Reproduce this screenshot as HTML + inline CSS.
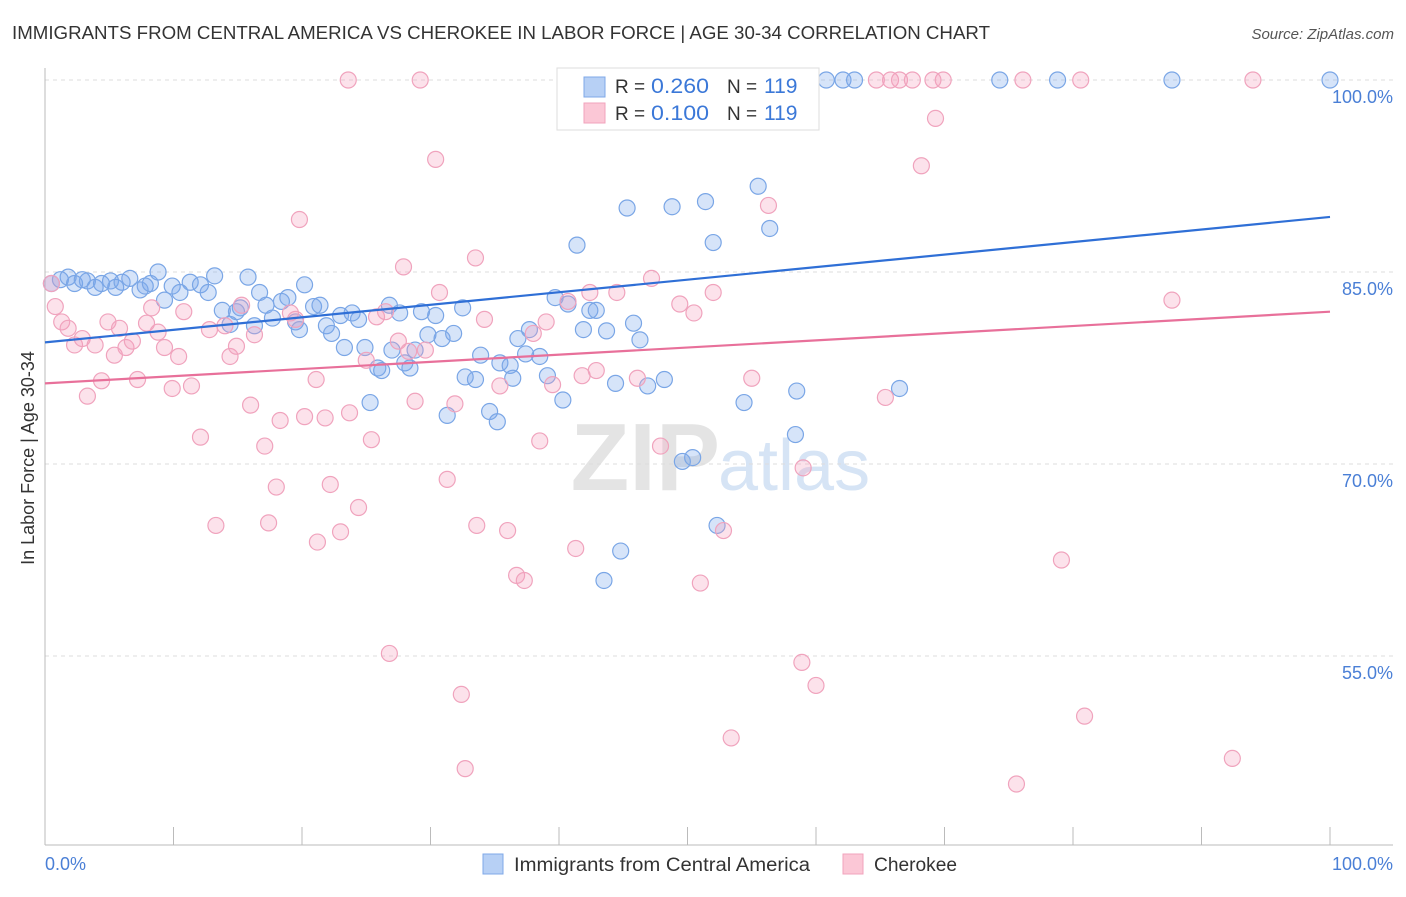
<!DOCTYPE html>
<html><head><meta charset="utf-8"><style>
body{margin:0;background:#fff;font-family:"Liberation Sans",sans-serif;}
svg text{font-family:"Liberation Sans",sans-serif;}
</style></head><body>
<svg id="chart" width="1406" height="892">
<text x="12" y="39" font-size="18" fill="#333" textLength="978" lengthAdjust="spacingAndGlyphs">IMMIGRANTS FROM CENTRAL AMERICA VS CHEROKEE IN LABOR FORCE | AGE 30-34 CORRELATION CHART</text>
<text x="1394" y="39" font-size="15" fill="#555" text-anchor="end" font-style="italic">Source: ZipAtlas.com</text>
<text x="720" y="490" font-size="96" fill="#e4e4e4" text-anchor="end" font-family="Liberation Serif" font-weight="bold">ZIP</text>
<text x="718" y="490" font-size="72" fill="#d6e4f5">atlas</text>
<g id="grid"></g>
<g id="pts"></g>
<g id="lines"></g>
<text transform="translate(34,458) rotate(-90)" font-size="18" fill="#333" text-anchor="middle">In Labor Force | Age 30-34</text>
<text x="45" y="870" font-size="18" fill="#4a7fd6">0.0%</text>
<text x="1393" y="870" font-size="18" fill="#4a7fd6" text-anchor="end">100.0%</text>
<g>
<rect x="557" y="68" width="262" height="62" fill="#fff" stroke="#ddd"/>
<rect x="584" y="77" width="21" height="20" fill="#b7d0f5" stroke="#7fa8e8"/>
<rect x="584" y="103" width="21" height="20" fill="#fbc7d6" stroke="#f2a3bc"/>
<text x="615" y="93" font-size="19" fill="#333">R = </text><text x="651" y="93" font-size="21" fill="#3b78d8" textLength="58" lengthAdjust="spacingAndGlyphs">0.260</text>
<text x="727" y="93" font-size="19" fill="#333">N = </text><text x="764" y="93" font-size="21" fill="#3b78d8">119</text>
<text x="615" y="120" font-size="19" fill="#333">R = </text><text x="651" y="120" font-size="21" fill="#3b78d8" textLength="58" lengthAdjust="spacingAndGlyphs">0.100</text>
<text x="727" y="120" font-size="19" fill="#333">N = </text><text x="764" y="120" font-size="21" fill="#3b78d8">119</text>
</g>
<g>
<rect x="483" y="854" width="20" height="20" fill="#b7d0f5" stroke="#7fa8e8"/>
<text x="514" y="871" font-size="19" fill="#333" textLength="296" lengthAdjust="spacingAndGlyphs">Immigrants from Central America</text>
<rect x="843" y="854" width="20" height="20" fill="#fbc7d6" stroke="#f2a3bc"/>
<text x="874" y="871" font-size="19" fill="#333" textLength="83" lengthAdjust="spacingAndGlyphs">Cherokee</text>
</g>
</svg>
<script>
const yTicks=[100,85,70,55];
const yTickLabels=["100.0%","85.0%","70.0%","55.0%"];
const xTicks=[0,10,20,30,40,50,60,70,80,90,100];
const blueX=[0.5,1.2,1.8,2.3,2.9,3.3,3.9,4.4,5.1,5.5,6.0,6.6,7.4,7.8,8.2,8.8,9.3,9.9,10.5,11.3,12.1,12.7,13.2,13.8,14.4,14.9,15.2,15.8,16.3,16.7,17.2,17.7,18.4,18.9,19.5,19.8,20.2,20.9,21.4,21.9,22.3,23.0,23.3,23.9,24.4,24.9,25.3,25.9,26.2,26.8,27.0,27.6,28.0,28.4,28.8,29.3,29.8,30.4,30.9,31.3,31.8,32.5,32.7,33.5,33.9,34.6,35.2,35.4,36.2,36.4,36.8,37.4,37.7,38.5,39.1,39.7,40.3,40.7,41.4,41.9,42.4,42.9,43.7,44.4,44.8,45.3,45.8,46.3,46.9,48.2,48.8,49.6,50.4,51.4,52.0,52.3,54.4,55.5,56.4,58.5,58.4,59.5,60.8,62.1,63.0,66.5,74.3,78.8,87.7,100,43.5,53.8,47.9];
const blueY=[84.1,84.4,84.6,84.1,84.4,84.3,83.8,84.1,84.3,83.8,84.2,84.5,83.6,83.9,84.1,85.0,82.8,83.9,83.4,84.2,84.0,83.4,84.7,82.0,80.9,81.9,82.2,84.6,80.8,83.4,82.4,81.4,82.7,83.0,81.1,80.5,84.0,82.3,82.4,80.8,80.2,81.6,79.1,81.8,81.3,79.1,74.8,77.5,77.3,82.4,78.9,81.8,77.9,77.5,78.9,81.9,80.1,81.6,79.8,73.8,80.2,82.2,76.8,76.6,78.5,74.1,73.3,77.9,77.7,76.7,79.8,78.6,80.5,78.4,76.9,83.0,75.0,82.5,87.1,80.5,82.0,82.0,80.4,76.3,63.2,90.0,81.0,79.7,76.1,76.6,90.1,70.2,70.5,90.5,87.3,65.2,74.8,91.7,88.4,75.7,72.3,100,100,100,100,75.9,100,100,100,100,60.9,100,100];
const pinkX=[0.5,0.8,1.3,1.8,2.3,2.9,3.3,3.9,4.4,4.9,5.4,5.8,6.3,6.8,7.2,7.9,8.3,8.8,9.3,9.9,10.4,10.8,11.4,12.1,12.8,13.3,14.0,14.4,14.9,15.3,16.0,16.3,17.1,17.4,18.0,18.3,19.1,19.5,19.8,20.2,21.1,21.2,21.8,22.2,23.0,23.6,23.7,24.4,25.0,25.4,25.8,26.5,26.8,27.5,27.9,28.3,28.8,29.2,29.6,30.4,30.7,31.3,31.9,32.4,32.7,33.5,33.6,34.2,35.4,36.0,36.7,37.3,38.0,38.5,39.0,39.5,40.7,41.3,41.8,42.4,42.9,44.5,46.1,47.2,47.9,49.4,50.5,51.0,51.4,52.0,52.8,53.4,54.0,55.0,56.3,59.0,58.9,60.0,64.7,65.4,65.8,66.5,67.5,68.2,69.3,69.9,76.1,79.1,80.6,80.9,87.7,92.4,94.0,75.6,69.1];
const pinkY=[84.1,82.3,81.1,80.6,79.3,79.8,75.3,79.3,76.5,81.1,78.5,80.6,79.1,79.6,76.6,81.0,82.2,80.3,79.1,75.9,78.4,81.9,76.1,72.1,80.5,65.2,80.8,78.4,79.2,82.4,74.6,80.1,71.4,65.4,68.2,73.4,81.8,81.3,89.1,73.7,76.6,63.9,73.6,68.4,64.7,100,74.0,66.6,78.1,71.9,81.5,81.9,55.2,79.6,85.4,78.8,74.9,100,78.9,93.8,83.4,68.8,74.7,52.0,46.2,86.1,65.2,81.3,76.1,64.8,61.3,60.9,80.2,71.8,81.1,76.2,82.7,63.4,76.9,83.4,77.3,83.4,76.7,84.5,71.4,82.5,81.8,60.7,100,83.4,64.8,48.6,97.0,76.7,90.2,69.7,54.5,52.7,100,75.2,100,100,100,93.3,97.0,100,100,62.5,100,50.3,82.8,47.0,100,45.0,100];
const blueTrend=[79.5,89.3];
const pinkTrend=[76.3,81.9];
const NS="http://www.w3.org/2000/svg";
const sx=v=>45+v*12.85;
const sy=v=>80+(100-v)*12.8;
function mk(t,a,p){const e=document.createElementNS(NS,t);for(const k in a)e.setAttribute(k,a[k]);p.appendChild(e);return e;}
const grid=document.getElementById('grid');
yTicks.forEach((v,i)=>{
 const l=mk('line',{x1:45,x2:1393,y1:sy(v),y2:sy(v),stroke:'#ddd','stroke-dasharray':'4,4'},grid);
 
 
 const t=mk('text',{x:1393,y:sy(v)+23,'font-size':18,fill:'#4a7fd6','text-anchor':'end'},grid);
 t.textContent=yTickLabels[i];
 
 
});
const ax=mk('line',{x1:45,x2:45,y1:68,y2:845,stroke:'#bbb'},grid);


const bx=mk('line',{x1:45,x2:1393,y1:845,y2:845,stroke:'#bbb'},grid);


xTicks.forEach(v=>{
 const t=mk('line',{x1:sx(v),x2:sx(v),y1:827,y2:845,stroke:'#bbb'},grid);
 
 
});
const pts=document.getElementById('pts');
blueX.forEach((x,i)=>{
 const c=mk('circle',{cx:sx(x),cy:sy(blueY[i]),r:8,fill:'rgba(120,165,235,0.3)',stroke:'#7aa6e6','stroke-width':1.2},pts);
 
 
});
pinkX.forEach((x,i)=>{
 const c=mk('circle',{cx:sx(x),cy:sy(pinkY[i]),r:8,fill:'rgba(245,160,190,0.3)',stroke:'#f0a3bd','stroke-width':1.2},pts);
 
 
});
const lines=document.getElementById('lines');
const b=mk('line',{x1:sx(0),y1:sy(blueTrend[0]),x2:sx(100),y2:sy(blueTrend[1]),stroke:'#2f6fd6','stroke-width':2.2},lines);


const p=mk('line',{x1:sx(0),y1:sy(pinkTrend[0]),x2:sx(100),y2:sy(pinkTrend[1]),stroke:'#e8709a','stroke-width':2.2},lines);


</script>
</body></html>
